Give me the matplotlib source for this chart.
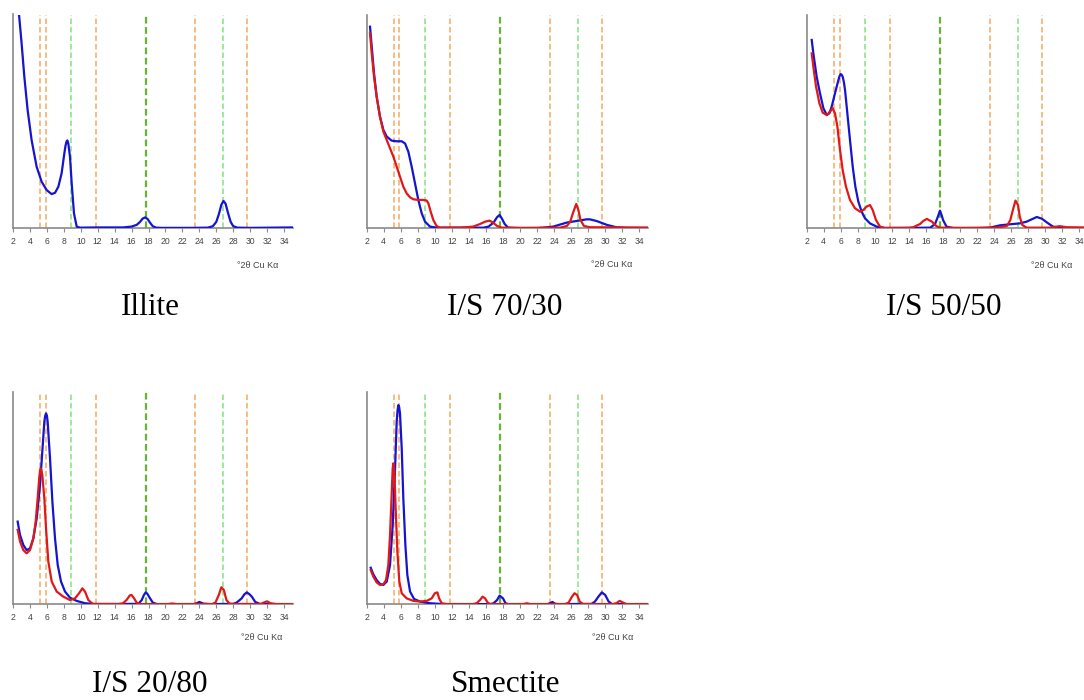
import matplotlib
matplotlib.use("Agg")
import matplotlib.pyplot as plt

# ---------------- data ----------------
ticks = list(range(2, 35, 2))
orange_lines = [5.15, 5.85, 11.8, 23.5, 29.6]
green_lines = [8.8, 26.85]
dark_green_lines = [17.65]

captions = ["Illite", "I/S 70/30", "I/S 50/50", "I/S 20/80", "Smectite"]
axis_label = "°2θ Cu Kα"

illite_blue_x = [2.62, 2.71, 3.02, 3.34, 3.73, 4.20, 4.79, 5.38, 5.97, 6.56, 6.96, 7.35, 7.74, 8.06, 8.20, 8.32,
                 8.42, 8.53, 8.73, 8.93, 9.20, 9.52, 9.91, 12.0, 15.0, 16.0, 16.6, 17.0, 17.3, 17.6, 17.9, 18.2,
                 18.5, 18.9, 19.5, 23.0, 25.0, 25.6, 26.0, 26.3, 26.6, 26.85, 27.1, 27.4, 27.7, 28.0, 28.5, 30.0,
                 35.0]
illite_blue_y = [104, 100, 86.3, 70.8, 55.2, 41.2, 28.8, 21.8, 17.9, 16.0, 16.6, 19.4, 25.7, 35.0, 38.6, 40.6,
                 41.1, 39.7, 33.4, 21.0, 7.0, 0.8, 0.3, 0.4, 0.4, 0.8, 1.6, 3.0, 4.5, 5.1, 4.3, 2.5,
                 1.0, 0.3, 0.2, 0.2, 0.3, 1.0, 3.0, 6.5, 11.0, 12.8, 11.5, 7.0, 3.0, 1.0, 0.3, 0.2,
                 0.4]

is70_blue_x = [2.39, 2.59, 2.86, 3.17, 3.56, 3.96, 4.35, 4.93, 5.52, 6.11, 6.50, 6.89, 7.28, 7.67, 8.06, 8.46,
               8.85, 9.43, 10.2, 13.0, 15.7, 16.3, 16.9, 17.3, 17.6, 17.85, 18.2, 18.6, 20.0, 22.0, 23.0, 23.9,
               25.5, 26.6, 27.8, 28.2, 29.0, 30.2, 31.3, 32.5, 35.0]
is70_blue_y = [94.5, 85.2, 72.7, 61.7, 52.3, 46.1, 43.0, 41.1, 40.8, 40.8, 39.8, 35.9, 28.9, 21.1, 13.3, 7.0,
               3.1, 0.8, 0.3, 0.3, 0.3, 0.8, 2.7, 5.2, 6.25, 4.7, 2.0, 0.3, 0.1, 0.1, 0.4, 0.8,
               2.7, 3.4, 4.2, 4.2, 3.4, 1.6, 0.5, 0.2, 0.2]
is70_red_x = [2.39, 2.59, 2.86, 3.17, 3.56, 3.96, 4.35, 4.74, 5.13, 5.52, 5.91, 6.30, 6.69, 7.09, 7.48, 8.06,
              8.65, 9.04, 9.24, 9.51, 9.82, 10.2, 10.6, 13.0, 14.5, 15.3, 15.9, 16.4, 16.8, 17.3, 17.85, 20.0,
              24.7, 25.5, 25.9, 26.2, 26.6, 26.85, 27.1, 27.5, 28.2, 35.0]
is70_red_y = [91.4, 82.0, 71.1, 61.7, 52.3, 45.3, 41.4, 37.5, 33.6, 28.9, 24.2, 19.5, 16.4, 14.5, 13.6, 13.3,
              13.3, 13.0, 11.7, 7.8, 3.9, 1.1, 0.3, 0.3, 0.8, 2.0, 3.1, 3.6, 2.8, 1.1, 0.3, 0.2,
              0.3, 1.1, 3.1, 7.0, 11.4, 8.6, 3.9, 1.1, 0.5, 0.3]

is50_blue_x = [2.59, 2.78, 3.17, 3.56, 3.96, 4.35, 4.66, 4.93, 5.32, 5.72, 5.86, 5.99, 6.10, 6.22, 6.36, 6.50,
               6.77, 7.08, 7.40, 7.71, 8.06, 8.45, 8.84, 9.43, 10.2, 11.0, 14.0, 16.5, 17.06, 17.4, 17.64, 17.85,
               18.0, 18.4, 19.2, 22.0, 23.5, 24.7, 25.9, 27.0, 27.8, 28.4, 29.0, 29.6, 30.2, 30.9, 31.7, 35.0]
is50_blue_y = [88.3, 82.0, 71.1, 63.3, 56.3, 53.1, 53.9, 57.0, 63.3, 69.5, 71.4, 72.3, 72.0, 71.1, 68.6, 64.8,
               53.9, 41.4, 28.9, 19.5, 12.5, 7.8, 4.7, 2.3, 0.8, 0.2, 0.2, 0.3, 2.0, 5.5, 8.3, 6.0,
               3.9, 0.8, 0.1, 0.1, 0.3, 1.4, 1.9, 2.3, 3.1, 4.2, 5.3, 4.5, 2.7, 0.8, 0.2, 0.2]
is50_red_x = [2.59, 2.78, 3.10, 3.49, 3.88, 4.35, 4.74, 5.05, 5.32, 5.60, 5.91, 6.22, 6.61, 7.08, 7.67, 8.26,
              8.65, 9.04, 9.43, 9.74, 10.13, 10.6, 11.2, 14.0, 14.5, 15.3, 15.7, 16.1, 16.7, 17.2, 17.6, 20.0,
              24.3, 25.5, 25.9, 26.2, 26.5, 26.8, 27.0, 27.3, 27.8, 30.5, 31.7, 32.5, 35.0]
is50_red_y = [82.0, 75.8, 66.4, 58.6, 54.2, 53.1, 54.7, 56.3, 53.9, 47.7, 36.7, 27.3, 19.5, 13.3, 9.4, 7.8,
              8.6, 10.2, 10.9, 8.6, 3.9, 0.8, 0.1, 0.2, 0.5, 2.0, 3.5, 4.4, 3.1, 1.1, 0.3, 0.2,
              0.3, 1.1, 3.9, 8.6, 13.0, 10.9, 5.5, 1.6, 0.3, 0.3, 1.0, 0.5, 0.3]

is20_blue_x = [2.55, 2.83, 3.22, 3.61, 4.01, 4.40, 4.80, 5.19, 5.46, 5.70, 5.80, 5.90, 6.00, 6.09, 6.37, 6.65,
               6.96, 7.28, 7.67, 8.14, 8.73, 9.52, 10.5, 11.7, 16.8, 17.2, 17.45, 17.67, 17.85, 18.06, 18.5, 19.0,
               23.3, 23.7, 24.0, 24.5, 25.3, 28.0, 28.4, 29.0, 29.3, 29.6, 29.9, 30.2, 30.6, 31.2, 35.0]
is20_blue_y = [38.9, 32.6, 27.9, 25.5, 26.3, 31.0, 40.4, 56.1, 71.8, 85.9, 88.6, 89.8, 88.8, 85.9, 68.7, 48.3,
               31.0, 18.5, 10.7, 6.0, 3.1, 1.6, 0.5, 0.1, 0.2, 2.0, 4.3, 5.6, 5.0, 3.6, 0.8, 0.1,
               0.1, 0.5, 1.1, 0.3, 0.1, 0.2, 0.8, 2.8, 4.6, 5.6, 4.8, 3.6, 1.1, 0.1, 0.1]
is20_red_x = [2.55, 2.83, 3.22, 3.61, 4.01, 4.40, 4.68, 4.91, 5.11, 5.20, 5.27, 5.36, 5.46, 5.70, 5.90, 6.17,
              6.57, 7.16, 7.94, 8.73, 9.32, 9.80, 10.19, 10.5, 10.9, 11.4, 14.5, 15.0, 15.4, 15.8, 16.0, 16.3,
              16.6, 17.0, 20.3, 20.8, 21.3, 25.5, 25.9, 26.3, 26.6, 26.9, 27.2, 27.6, 31.2, 31.6, 32.0, 32.4,
              33.1, 35.0]
is20_red_y = [35.0, 29.5, 25.5, 24.0, 25.5, 31.0, 38.9, 49.8, 60.0, 63.0, 64.0, 63.0, 60.8, 49.8, 35.7, 20.1,
              10.7, 6.0, 3.6, 2.0, 2.8, 5.2, 7.5, 6.0, 2.0, 0.2, 0.1, 0.5, 2.0, 4.2, 4.4, 2.8,
              0.8, 0.1, 0.1, 0.4, 0.1, 0.1, 0.8, 4.4, 8.0, 6.7, 2.0, 0.2, 0.1, 0.8, 1.4, 0.5,
              0.1, 0.1]

smec_blue_x = [2.47, 2.78, 3.17, 3.56, 3.96, 4.35, 4.74, 5.05, 5.33, 5.52, 5.63, 5.72, 5.81, 5.91, 6.11, 6.30,
               6.54, 6.77, 7.09, 7.56, 8.26, 9.43, 11.0, 16.5, 16.9, 17.3, 17.6, 18.0, 18.3, 18.6, 23.2, 23.5,
               23.8, 24.1, 24.5, 28.4, 28.8, 29.2, 29.6, 30.0, 30.4, 30.8, 35.0]
smec_blue_y = [17.2, 14.1, 11.4, 9.6, 9.1, 10.7, 18.5, 37.3, 63.9, 85.9, 91.5, 93.7, 92.8, 89.8, 73.4, 49.8,
               27.9, 13.8, 6.0, 2.5, 1.3, 0.5, 0.1, 0.1, 0.5, 2.0, 4.1, 2.8, 0.5, 0.1, 0.1, 0.5,
               1.1, 0.3, 0.1, 0.2, 1.3, 3.6, 5.6, 4.4, 1.3, 0.1, 0.1]
smec_red_x = [2.47, 2.78, 3.17, 3.56, 3.96, 4.27, 4.54, 4.74, 4.93, 5.05, 5.13, 5.25, 5.40, 5.60, 5.83, 6.11,
              6.69, 7.48, 8.26, 9.04, 9.63, 10.0, 10.3, 10.5, 10.8, 11.4, 14.5, 14.9, 15.3, 15.6, 15.9, 16.2,
              16.5, 20.4, 20.8, 21.2, 25.3, 25.7, 26.1, 26.4, 26.7, 27.0, 27.4, 30.9, 31.3, 31.7, 32.1, 32.5, 35.0]
smec_red_y = [16.1, 13.0, 10.3, 9.1, 9.4, 11.4, 18.5, 32.6, 51.4, 64.0, 66.3, 62.4, 45.1, 24.8, 10.7, 5.2,
              2.8, 1.6, 1.3, 1.6, 2.8, 5.2, 5.6, 2.8, 0.5, 0.1, 0.1, 0.5, 2.0, 3.6, 2.8, 0.8,
              0.1, 0.1, 0.5, 0.1, 0.1, 0.8, 3.6, 5.2, 4.4, 1.3, 0.1, 0.1, 0.5, 1.6, 0.8, 0.1, 0.1]

# ---------------- layout ----------------
W, H = 1084, 700
fig = plt.figure(figsize=(W / 100, H / 100), dpi=100)
fig.patch.set_facecolor("white")

BLUE = "#1414d2"
RED = "#e01818"
ORANGE = "#f5b070"
GREEN = "#8ee48a"
DKGREEN = "#64b532"
AXCOL = "#8a8a8a"


def px_rect(left, right, top, bottom):
    return [left / W, 1 - bottom / H, (right - left) / W, (bottom - top) / H]


panels = [
    dict(rect=px_rect(13, 292.5, 14.5, 228.3), blue=(illite_blue_x, illite_blue_y), red=None,
         cap=(150, 308), lab=(258, 265)),
    dict(rect=px_rect(366.7, 647.8, 15, 228.3), blue=(is70_blue_x, is70_blue_y), red=(is70_red_x, is70_red_y),
         cap=(505, 308), lab=(612, 264)),
    dict(rect=px_rect(806.7, 1087.9, 15, 228.3), blue=(is50_blue_x, is50_blue_y), red=(is50_red_x, is50_red_y),
         cap=(944, 308), lab=(1052, 265)),
    dict(rect=px_rect(13, 292.5, 391.7, 604.3), blue=(is20_blue_x, is20_blue_y), red=(is20_red_x, is20_red_y),
         cap=(150, 684), lab=(262, 637)),
    dict(rect=px_rect(366.7, 647.8, 391.7, 604.3), blue=(smec_blue_x, smec_blue_y), red=(smec_red_x, smec_red_y),
         cap=(506, 684), lab=(613, 637)),
]

for p, cap in zip(panels, captions):
    ax = fig.add_axes(p["rect"])
    ax.set_xlim(2, 35)
    ax.set_ylim(0, 100)
    for s in ("top", "right"):
        ax.spines[s].set_visible(False)
    for s in ("left", "bottom"):
        ax.spines[s].set_color(AXCOL)
        ax.spines[s].set_linewidth(1.2)
    ax.set_yticks([])
    ax.set_xticks(ticks)
    ax.set_xticklabels([str(t) for t in ticks])
    ax.tick_params(axis="x", direction="out", length=3, width=0.8, color=AXCOL,
                   labelsize=6.2, labelcolor="#444444", pad=3)
    for lab in ax.get_xticklabels():
        lab.set_family("Liberation Sans")

    for xv in orange_lines:
        ax.axvline(xv, color=ORANGE, lw=1.2, dashes=(3.3, 1.8), zorder=1)
    for xv in green_lines:
        ax.axvline(xv, color=GREEN, lw=1.2, dashes=(3.3, 1.8), zorder=1)
    for xv in dark_green_lines:
        ax.axvline(xv, color=DKGREEN, lw=1.6, dashes=(3.0, 1.6), zorder=1)

    bx, by = p["blue"]
    ax.plot(bx, by, color=BLUE, lw=1.6, zorder=3, solid_joinstyle="round")
    if p["red"] is not None:
        rx, ry = p["red"]
        ax.plot(rx, ry, color=RED, lw=1.6, zorder=4, solid_joinstyle="round")

    lx, ly = p["lab"]
    fig.text(lx / W, 1 - ly / H, axis_label, ha="center", va="center", fontsize=6.5,
             color="#444444", family="Liberation Sans")
    cx, cy = p["cap"]
    fig.text(cx / W, 1 - cy / H, cap, ha="center", va="center", fontsize=22.5,
             color="black", family="Liberation Serif")

fig.savefig("out.png", dpi=100, facecolor="white")
